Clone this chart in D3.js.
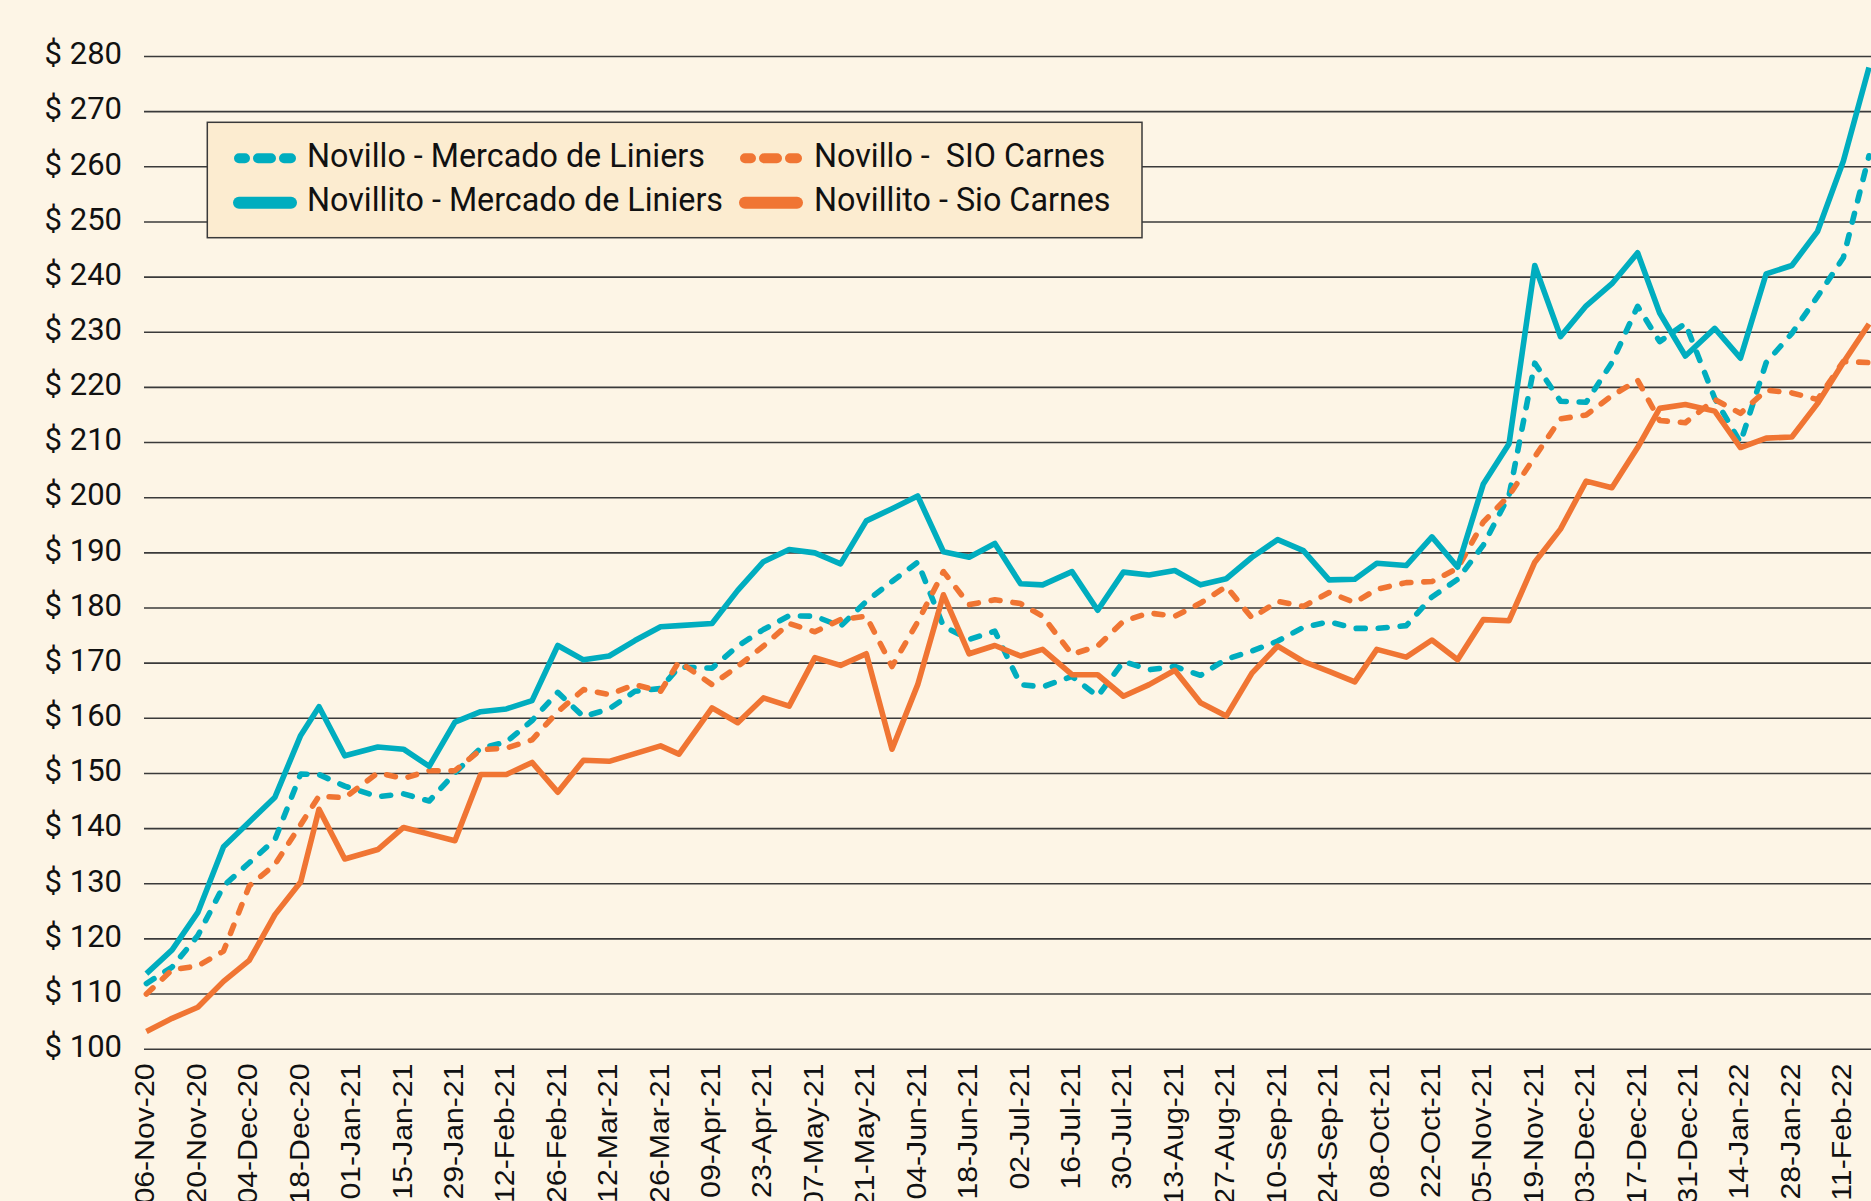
<!DOCTYPE html>
<html>
<head>
<meta charset="utf-8">
<script src="https://cdn.jsdelivr.net/npm/d3@7"></script>
<style>
  html, body { margin: 0; padding: 0; background: #fdf5e6; overflow: hidden; }
  svg { display: block; }
  text { white-space: pre; }
</style>
</head>
<body>
<svg id="chart" width="1871" height="1201"></svg>
<script>
// ---------------- data ----------------
const dates = [
  "2020-11-06","2020-11-13","2020-11-20","2020-11-27","2020-12-04","2020-12-11","2020-12-18","2020-12-23","2020-12-30",
  "2021-01-08","2021-01-15","2021-01-22","2021-01-29","2021-02-05","2021-02-12","2021-02-19","2021-02-26",
  "2021-03-05","2021-03-12","2021-03-19","2021-03-26","2021-03-31","2021-04-09","2021-04-16","2021-04-23","2021-04-30",
  "2021-05-07","2021-05-14","2021-05-21","2021-05-28","2021-06-04","2021-06-11","2021-06-18","2021-06-25",
  "2021-07-02","2021-07-08","2021-07-16","2021-07-23","2021-07-30","2021-08-06","2021-08-13","2021-08-20","2021-08-27",
  "2021-09-03","2021-09-10","2021-09-17","2021-09-24","2021-10-01","2021-10-07","2021-10-15","2021-10-22","2021-10-29",
  "2021-11-05","2021-11-12","2021-11-19","2021-11-26","2021-12-03","2021-12-10","2021-12-17","2021-12-23","2021-12-30",
  "2022-01-07","2022-01-14","2022-01-21","2022-01-28","2022-02-04","2022-02-11","2022-02-18"
];

const novilloLiniers = [
  111.9,114.9,120.6,129.6,133.8,138.0,149.9,149.8,147.7,
  145.8,146.3,145.0,150.1,154.6,155.7,159.6,164.7,
  160.3,161.7,164.9,165.4,169.3,169.1,173.1,176.1,178.6,
  178.5,176.7,181.2,184.8,188.3,176.7,174.3,175.8,
  166.1,165.7,167.6,164.0,170.3,168.8,169.4,167.8,170.7,
  172.2,174.0,176.5,177.5,176.3,176.3,176.8,182.0,185.2,
  191.4,200.4,224.4,217.5,217.3,224.5,234.7,228.3,231.6,
  218.0,210.0,224.5,229.8,236.5,243.5,262.0
];

const novilloSio = [
  110.0,114.4,115.1,117.8,129.6,133.5,140.7,145.9,145.6,
  150.1,149.1,150.5,150.5,154.3,154.6,156.1,161.2,
  165.2,164.3,166.1,164.9,170.3,166.1,169.4,173.1,177.2,
  175.7,177.9,178.5,169.4,177.5,186.6,180.6,181.5,
  180.8,178.5,171.6,173.1,177.6,179.1,178.5,180.9,183.9,
  178.2,181.2,180.3,182.8,181.0,183.4,184.6,184.8,187.2,
  195.6,200.4,207.4,214.3,215.0,218.5,221.3,214.0,213.6,
  217.8,215.3,219.5,219.0,217.8,224.7,224.5
];

const novillitoLiniers = [
  113.7,118.0,124.8,136.7,141.2,145.7,156.9,162.1,153.2,
  154.8,154.4,151.3,159.3,161.2,161.7,163.2,173.2,
  170.6,171.3,174.1,176.6,176.8,177.2,183.2,188.4,190.6,
  190.0,188.0,195.8,198.0,200.3,190.2,189.2,191.7,
  184.4,184.2,186.6,179.6,186.5,186.0,186.8,184.2,185.3,
  189.2,192.4,190.4,185.1,185.2,188.1,187.7,192.9,187.4,
  202.5,209.8,242.1,229.2,234.8,238.8,244.4,233.5,225.7,
  230.7,225.3,240.6,242.1,248.3,261.0,278.0
];

const novillitoSio = [
  103.2,105.6,107.6,112.3,116.1,124.4,130.3,143.5,134.5,
  136.2,140.2,139.0,137.8,149.8,149.8,152.0,146.6,
  152.4,152.2,153.6,155.0,153.5,161.9,159.2,163.7,162.2,
  171.0,169.6,171.7,154.4,166.1,182.4,171.7,173.2,
  171.3,172.5,167.9,167.9,164.0,166.1,168.7,162.8,160.4,
  168.2,173.1,170.3,168.5,166.6,172.5,171.1,174.2,170.6,
  177.9,177.7,188.3,194.3,203.0,201.8,209.1,216.2,216.9,
  215.7,209.1,210.8,211.0,217.1,224.5,231.5
];

const yTicks = [100,110,120,130,140,150,160,170,180,190,200,210,220,230,240,250,260,270,280];

const xTickLabels = [
  "06-Nov-20","20-Nov-20","04-Dec-20","18-Dec-20","01-Jan-21","15-Jan-21","29-Jan-21","12-Feb-21",
  "26-Feb-21","12-Mar-21","26-Mar-21","09-Apr-21","23-Apr-21","07-May-21","21-May-21","04-Jun-21",
  "18-Jun-21","02-Jul-21","16-Jul-21","30-Jul-21","13-Aug-21","27-Aug-21","10-Sep-21","24-Sep-21",
  "08-Oct-21","22-Oct-21","05-Nov-21","19-Nov-21","03-Dec-21","17-Dec-21","31-Dec-21","14-Jan-22",
  "28-Jan-22","11-Feb-22"
];

const seriesNames = [
  "Novillo - Mercado de Liniers",
  "Novillo -  SIO Carnes",
  "Novillito - Mercado de Liniers",
  "Novillito - Sio Carnes"
];

// ---------------- setup ----------------
const W = 1871, H = 1201;
const TEAL = "#00adbf", ORANGE = "#f07533";
const parseDate = d3.utcParse("%Y-%m-%d");
const parseTick = d3.utcParse("%d-%b-%y");
const fmtTick = d3.utcFormat("%d-%b-%y");

const svg = d3.select("#chart");
svg.append("rect").attr("width", W).attr("height", H).attr("fill", "#fdf5e6");

const x = d3.scaleUtc()
  .domain([parseTick("06-Nov-20"), parseTick("11-Feb-22")])
  .range([146.4, 1843.3]);
const y = d3.scaleLinear().domain([100, 280]).range([1049.2, 56.5]);

// gridlines
svg.append("g").selectAll("line").data(yTicks).join("line")
  .attr("x1", 144).attr("x2", W + 10)
  .attr("y1", d => y(d)).attr("y2", d => y(d))
  .attr("stroke", "#3a3a3a").attr("stroke-width", 1.6);

// y axis labels
const yAxis = svg.append("g").attr("transform", "translate(122,0)")
  .call(d3.axisLeft(y).tickValues(yTicks).tickSize(0).tickPadding(0).tickFormat(d => "$ " + d));
yAxis.select(".domain").remove();
yAxis.selectAll("text")
  .attr("font-family", "Roboto, sans-serif").attr("font-size", 31)
  .attr("fill", "#111").attr("dy", "0.235em");

// x axis labels
const xAxis = svg.append("g")
  .call(d3.axisBottom(x).tickValues(xTickLabels.map(parseTick)).tickSize(0).tickFormat(fmtTick));
xAxis.select(".domain").remove();
xAxis.selectAll("text")
  .attr("font-family", "'Liberation Sans', Arial, sans-serif").attr("font-size", 28)
  .attr("fill", "#111").attr("text-anchor", "end")
  .attr("x", 0).attr("y", 0).attr("dy", 0)
  .attr("transform", "translate(7.5,1063.5) rotate(-90) scale(1.08,1)");

// lines
const series = [
  { name: seriesNames[0], values: novilloLiniers, color: TEAL, dashed: true },
  { name: seriesNames[1], values: novilloSio, color: ORANGE, dashed: true },
  { name: seriesNames[2], values: novillitoLiniers, color: TEAL, dashed: false },
  { name: seriesNames[3], values: novillitoSio, color: ORANGE, dashed: false }
];
const parsedDates = dates.map(parseDate);
const line = d3.line().x((d, i) => x(parsedDates[i])).y(d => y(d));

svg.append("g").selectAll("path").data(series).join("path")
  .attr("d", d => line(d.values))
  .attr("fill", "none")
  .attr("stroke", d => d.color)
  .attr("stroke-width", 5.6)
  .attr("stroke-linejoin", "round")
  .attr("stroke-linecap", d => d.dashed ? "round" : "butt")
  .attr("stroke-dasharray", d => d.dashed ? "9,13" : null);

// legend
const lg = svg.append("g");
lg.append("rect").attr("x", 207.3).attr("y", 122.3).attr("width", 934.7).attr("height", 115.4)
  .attr("fill", "#fcecd0").attr("stroke", "#3a3a3a").attr("stroke-width", 1.5);
const legendPos = [
  { sx: 239, tx: 307, sy: 158.3, ty: 166.5 },
  { sx: 745, tx: 814, sy: 158.3, ty: 166.5 },
  { sx: 239, tx: 307, sy: 202.7, ty: 210.5 },
  { sx: 745, tx: 814, sy: 202.7, ty: 210.5 }
];
series.forEach((s, i) => {
  const p = legendPos[i];
  lg.append("line")
    .attr("x1", p.sx).attr("x2", p.sx + 52).attr("y1", p.sy).attr("y2", p.sy)
    .attr("stroke", s.color).attr("stroke-width", s.dashed ? 10 : 12)
    .attr("stroke-linecap", "round")
    .attr("stroke-dasharray", s.dashed ? "13,13" : null)
    .attr("stroke-dashoffset", s.dashed ? 7 : null);
  lg.append("text").attr("x", p.tx).attr("y", p.ty)
    .attr("font-family", "Roboto, sans-serif").attr("font-size", 32.3)
    .attr("fill", "#111").text(s.name);
});
</script>
</body>
</html>
